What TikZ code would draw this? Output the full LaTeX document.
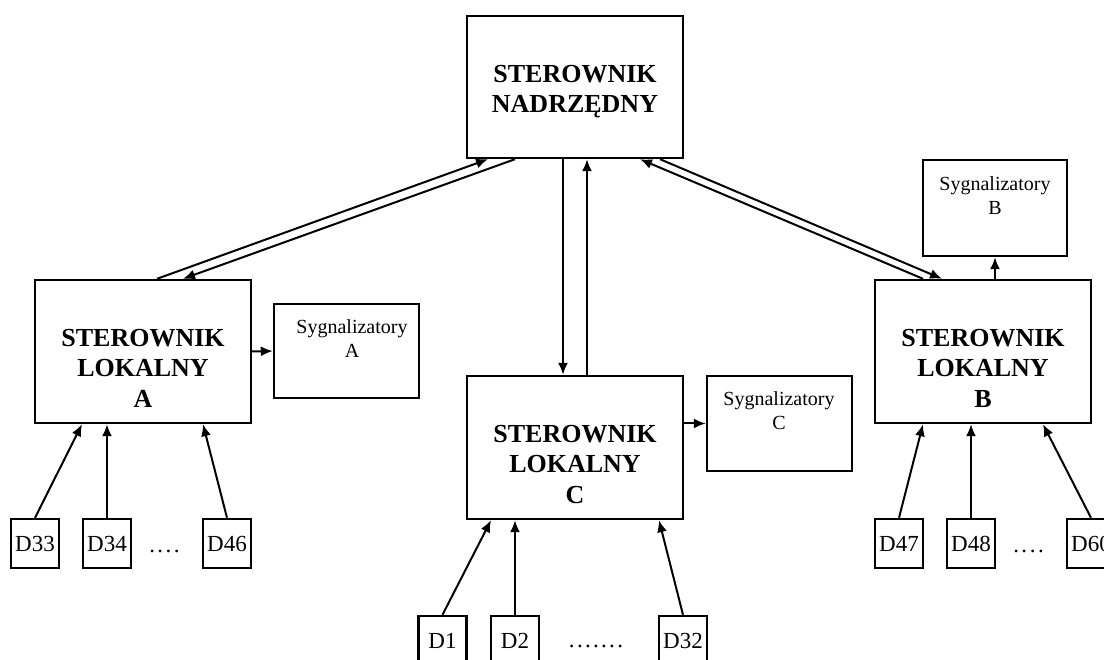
\documentclass[tikz,border=0pt]{standalone}
\usepackage{fontspec}
\setmainfont{Liberation Serif}
\usetikzlibrary{arrows.meta}
\begin{document}
\begin{tikzpicture}[x=1pt,y=-1pt,
  box/.style={draw,line width=2.4pt,inner sep=0pt,minimum width=#1},
  ctrl/.style={box=216pt,minimum height=143pt},
  sigbox/.style={box=145pt,minimum height=95pt},
  detbox/.style={box=48pt,minimum height=49pt,font=\fontsize{23}{27}\selectfont},
  ctrltext/.style={anchor=north,inner sep=0pt,align=center,font=\fontsize{26}{30.5}\selectfont\bfseries},
  sigtext/.style={anchor=north,inner sep=0pt,align=center,font=\fontsize{20}{24}\selectfont},
  dots/.style={anchor=base,inner sep=0pt,font=\fontsize{23}{27}\selectfont},
  arr/.style={line width=2pt,-{Latex[length=12pt,width=10pt]}}]
\useasboundingbox (0,0) rectangle (1104,660);

% controllers
\node[ctrl,minimum height=142pt] (T) at (575,87) {};
\node[ctrl] (A) at (143,351.5) {};
\node[ctrl] (C) at (575,447.5) {};
\node[ctrl] (B) at (983,351.5) {};
\node[ctrltext] (Tt) at (575,64.8) {STEROWNIK\\NADRZĘDNY};
\node[ctrltext] (At) at (143,328.8) {STEROWNIK\\LOKALNY\\A};
\node[ctrltext] (Ct) at (575,424.8) {STEROWNIK\\LOKALNY\\C};
\node[ctrltext] (Bt) at (983,328.8) {STEROWNIK\\LOKALNY\\B};

% signalling units
\node[sigbox,minimum height=94pt] (SA) at (346.5,351) {};
\node[sigbox] (SC) at (779.5,423.5) {};
\node[sigbox,minimum width=144pt,minimum height=96pt] (SB) at (995,208) {};
\node[sigtext] (SAt) at (352,319.3) {Sygnalizatory\\A};
\node[sigtext] (SCt) at (779,391.3) {Sygnalizatory\\C};
\node[sigtext] (SBt) at (995,176.3) {Sygnalizatory\\B};

% detectors
\node[detbox] (D33) at (35,543.5) {D33};
\node[detbox] (D34) at (107,543.5) {D34};
\node[detbox] (D46) at (227,543.5) {D46};
\node[detbox] (D1) at (442.5,640.5) {D1};
\node[detbox] (D2) at (515,640.5) {D2};
\node[detbox] (D32) at (683,640.5) {D32};
\node[detbox] (D47) at (899,543.5) {D47};
\node[detbox] (D48) at (971,543.5) {D48};
\node[detbox] (D60) at (1091,543.5) {D60};
\node[dots] (dA) at (164.5,552) {.\kern2.5pt.\kern2.5pt.\kern2.5pt.};
\node[dots] (dC) at (596,647) {.\kern2.3pt.\kern2.3pt.\kern2.3pt.\kern2.3pt.\kern2.3pt.\kern2.3pt.};
\node[dots] (dB) at (1028.5,552) {.\kern2.5pt.\kern2.5pt.\kern2.5pt.};

% links between master and local controllers
\draw[arr] ([xshift=14pt]A.north) -- ([xshift=-87pt]T.south);
\draw[arr] ([xshift=-60pt]T.south) -- ([xshift=40pt]A.north);
\draw[arr] ([xshift=-12pt]T.south) -- ([xshift=-12pt]C.north);
\draw[arr] ([xshift=12pt]C.north) -- ([xshift=12pt]T.south);
\draw[arr] ([xshift=85pt]T.south) -- ([xshift=-41pt]B.north);
\draw[arr] ([xshift=-60pt]B.north) -- ([xshift=65pt]T.south);

% outputs to signalling units
\draw[arr] (A.east) -- (SA.west);
\draw[arr] (SC.west -| C.east) -- (SC.west);
\draw[arr] (B.north -| SB.south) -- (SB.south);

% detector inputs
\draw[arr] (D33.north) -- ([xshift=-61pt]A.south);
\draw[arr] (D34.north) -- (D34.north |- A.south);
\draw[arr] (D46.north) -- ([xshift=60pt]A.south);
\draw[arr] (D1.north) -- ([xshift=-84pt]C.south);
\draw[arr] (D2.north) -- (D2.north |- C.south);
\draw[arr] (D32.north) -- ([xshift=84pt]C.south);
\draw[arr] (D47.north) -- ([xshift=-60pt]B.south);
\draw[arr] (D48.north) -- (D48.north |- B.south);
\draw[arr] (D60.north) -- ([xshift=60pt]B.south);
\end{tikzpicture}
\end{document}
